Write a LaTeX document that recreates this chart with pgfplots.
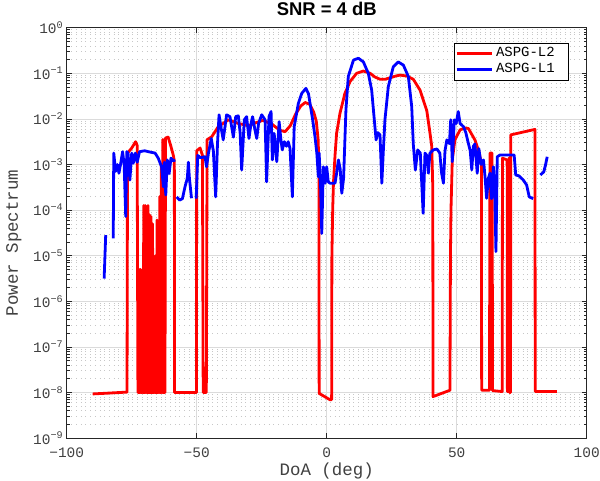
\documentclass[border=0pt]{standalone}
\usepackage{pgfplots}
\pgfplotsset{compat=1.18}
\usepackage{fontspec}
\setmainfont{Liberation Sans}
\newfontfamily\mono{Liberation Mono}
\definecolor{txtgray}{RGB}{64,64,64}
\definecolor{axgray}{RGB}{38,38,38}
\definecolor{mred}{RGB}{255,0,0}
\definecolor{mblue}{RGB}{0,0,255}
\begin{document}
\begin{tikzpicture}
\begin{axis}[
  scale only axis, width=520bp, height=410.4bp,
  at={(0,0)}, anchor=south west,
  xmin=-100, xmax=100, ymin=1e-9, ymax=1,
  ymode=log,
  xtick={-100,-50,0,50,100},
  xticklabels={−100,−50,0,50,100},
  ytick={1e-9,1e-8,1e-7,1e-6,1e-5,1e-4,1e-3,1e-2,1e-1,1},
  yticklabels={10\textsuperscript{−9},10\textsuperscript{−8},10\textsuperscript{−7},10\textsuperscript{−6},10\textsuperscript{−5},10\textsuperscript{−4},10\textsuperscript{−3},10\textsuperscript{−2},10\textsuperscript{−1},10\textsuperscript{0}},
  minor ytick={2e-9,3e-9,4e-9,5e-9,6e-9,7e-9,8e-9,9e-9,
               2e-8,3e-8,4e-8,5e-8,6e-8,7e-8,8e-8,9e-8,
               2e-7,3e-7,4e-7,5e-7,6e-7,7e-7,8e-7,9e-7,
               2e-6,3e-6,4e-6,5e-6,6e-6,7e-6,8e-6,9e-6,
               2e-5,3e-5,4e-5,5e-5,6e-5,7e-5,8e-5,9e-5,
               2e-4,3e-4,4e-4,5e-4,6e-4,7e-4,8e-4,9e-4,
               2e-3,3e-3,4e-3,5e-3,6e-3,7e-3,8e-3,9e-3,
               2e-2,3e-2,4e-2,5e-2,6e-2,7e-2,8e-2,9e-2,
               0.2,0.3,0.4,0.5,0.6,0.7,0.8,0.9},
  xmajorgrids, ymajorgrids, yminorgrids,
  major grid style={draw=black!14, line width=0.5bp},
  minor grid style={draw=black!22, line width=0.6bp, dash pattern=on 0.8bp off 3.9bp},
  tick align=inside, xtick pos=both, ytick pos=both,
  major tick length=5bp, minor tick length=3bp,
  every tick/.style={draw=axgray, line width=0.6bp},
  axis line style={draw=axgray, line width=0.6bp},
  tick label style={font=\mono\fontsize{14.5}{16}\selectfont, text=txtgray},
  xticklabel style={anchor=base, yshift=-19bp},
  xlabel={DoA (deg)}, ylabel={Power Spectrum},
  label style={font=\mono\fontsize{17.5}{19}\selectfont, text=txtgray},
  xlabel style={at={(axis description cs:0.5,-0.0902)}, anchor=base},
  ylabel style={at={(axis description cs:-0.0937,0.4756)}, anchor=base},
  title={SNR = 4 dB},
  title style={font=\bfseries\fontsize{18.5}{20}\selectfont, at={(axis description cs:0.5,1.0146)}, anchor=base},
  legend style={at={(axis description cs:0.7445,0.962)}, anchor=north west,
    font=\mono\fontsize{14}{16}\selectfont, draw=black, fill=white,
    inner xsep=1bp, inner ysep=3bp, row sep=0bp,
    nodes={inner xsep=2bp, inner ysep=0bp, text height=10.5bp, text depth=4.8bp, anchor=base west}},
  legend image code/.code={\draw[#1] (2bp,3bp) -- (37bp,3bp);},
  legend cell align=left,
]
\addlegendimage{draw=mred, line width=3bp}
\addlegendentry{\hspace*{1bp}ASPG-L2\hspace*{11bp}}
\addlegendimage{draw=mblue, line width=3bp}
\addlegendentry{\hspace*{1bp}ASPG-L1\hspace*{11bp}}
\addplot[forget plot, draw=mred, line width=2.8bp, line join=round] coordinates {
(-90.0,9.3e-9) (-76.8,1.02e-8) (-76.6,1.78e-3) (-75.0,2.29e-3) (-73.5,3.16e-3) (-72.9,2.63e-3) (-72.6,1e-8)
(-72.3,1e-8) (-72.18,5e-6) (-72.05,1e-8)
(-71.7,1e-8) (-71.58,5e-6) (-71.45,1e-8)
(-71.1,1e-8) (-70.98,4.47e-6) (-70.85,1e-8)
(-70.5,1e-8) (-70.38,1.26e-4) (-70.25,1e-8)
(-69.95,1e-8) (-69.83,1.26e-4) (-69.7,1e-8)
(-69.4,1e-8) (-69.28,1.12e-4) (-69.15,1e-8)
(-68.85,1e-8) (-68.73,1.26e-4) (-68.6,1e-8)
(-68.3,1e-8) (-68.18,7.94e-5) (-68.05,1e-8)
(-67.7,1e-8) (-67.58,7.24e-5) (-67.45,1e-8)
(-67.1,1e-8) (-66.98,5.01e-5) (-66.85,1e-8)
(-66.5,1e-8) (-66.38,3.98e-7) (-66.25,1e-8)
(-65.95,1e-8) (-65.83,1e-5) (-65.7,1e-8)
(-65.4,1e-8) (-65.28,6.03e-5) (-65.15,1e-8)
(-64.85,1e-8) (-64.73,5.01e-5) (-64.6,1e-8)
(-64.3,1e-8) (-64.18,2.0e-4) (-64.05,1e-8)
(-63.7,1e-8) (-63.58,1.0e-3) (-63.45,1e-8)
(-63.15,1e-8) (-63.03,3.55e-3) (-62.9,1e-8)
(-62.6,1e-8) (-62.48,1.26e-3) (-62.35,1e-8)
(-62.2,1e-8) (-62.0,3.8e-3) (-61.0,4.0e-3) (-60.0,2.6e-3) (-59.0,1.6e-3) (-58.6,1.2e-3) (-58.5,1e-8)
(-50.1,1e-8) (-50.0,2.0e-3) (-48.7,2.3e-3) (-47.8,1.6e-3) (-47.5,1e-8)
(-46.3,1e-8) (-46.0,3.5e-3) (-44.2,4.07e-3) (-41.7,6.76e-3) (-37.8,9.55e-3) (-34.0,7.94e-3)
(-30.0,7.08e-3) (-27.0,8.32e-3) (-24.5,9.33e-3) (-21.0,7.59e-3) (-18.0,5.62e-3) (-16.0,5.25e-3)
(-14.0,7.08e-3) (-12.0,1.26e-2) (-10.0,1.91e-2) (-8.3,2.29e-2) (-6.5,2.09e-2) (-5.0,1.41e-2)
(-4.0,8.91e-3) (-3.3,3.55e-3) (-3.0,1e-3) (-2.9,9.55e-9) (1.3,6.92e-9) (1.9,7e-9)
(2.0,1e-5) (2.3,1e-4) (2.6,3.98e-4) (3.2,1.58e-3) (3.8,4.79e-3) (5.1,1.32e-2) (7.0,3.63e-2)
(9.0,6.61e-2) (11.5,0.1) (14.1,0.112) (16.7,0.1) (18.5,8.32e-2) (20.5,7.41e-2) (22.5,7.41e-2)
(24.3,7.94e-2) (26.5,8.71e-2) (28.2,9.12e-2) (30.8,8.71e-2) (33.3,7.41e-2) (35.9,4.27e-2)
(38.5,1.51e-2) (39.7,5.01e-3) (40.4,2.51e-3) (40.8,3.16e-4) (40.9,8.13e-9) (47.4,1.12e-8)
(47.6,1e-5) (47.8,1e-4) (48.3,1.26e-3) (49.3,3.47e-3) (51.3,5.75e-3) (53.2,6.31e-3) (54.5,6.17e-3)
(57.0,3.47e-3) (58.7,1.78e-3) (59.5,1e-3) (59.6,1.12e-8) (62.6,1.12e-8) (62.8,1.78e-3) (63.6,1.78e-3)
(63.8,1.1e-8) (67.5,1.05e-8) (67.6,1.38e-3) (69.4,1.26e-3) (69.5,1.05e-8) (70.1,1.05e-8) (70.2,1.4e-3)
(70.35,1.0e-8) (70.7,1.0e-8) (70.8,4.47e-3) (80.1,5.89e-3) (80.2,1.05e-8) (88.5,1.05e-8)
};
\addplot[forget plot, draw=mblue, line width=2.8bp, line join=round] coordinates {
(-82.1,2.4e-5) (-81.9,1.78e-3) (-81.2,7.08e-4) (-80.5,1e-3) (-79.9,6.46e-4) (-79.3,1e-3) (-78.5,1.91e-3)
(-77.9,1e-3) (-77.3,7.24e-5) (-76.9,1.91e-3) (-76.4,1.78e-3) (-75.7,4.57e-4) (-75.0,1.78e-3)
(-74.4,1.07e-3) (-73.6,1.78e-3) (-72.9,1.12e-3) (-72.0,1.91e-3) (-70.0,2.0e-3) (-68.6,1.91e-3)
(-66.0,1.78e-3) (-64.8,1.38e-3) (-63.5,8.91e-4) (-62.8,3.24e-4) (-62.4,1.12e-3) (-61.9,2.14e-4)
(-61.3,1.26e-3) (-60.6,6.31e-4) (-59.9,1.38e-3) (-59.0,1.2e-3) (-58.3,1.26e-3)
};
\addplot[forget plot, draw=mblue, line width=2.8bp, line join=round] coordinates {
(-85.6,3.16e-6) (-85.0,2.82e-5)
};
\addplot[forget plot, draw=mblue, line width=2.8bp, line join=round] coordinates {
(-57.7,1.95e-4) (-56.6,1.66e-4) (-55.5,1.78e-4) (-54.5,3.24e-4) (-53.6,5.01e-4) (-53.2,1.12e-3)
(-52.8,5.0e-4) (-52.0,1.82e-4)
};
\addplot[forget plot, draw=mblue, line width=2.8bp, line join=round] coordinates {
(-50.2,1.78e-4) (-49.6,1.58e-3) (-48.5,1.41e-3) (-46.8,1.48e-3) (-46.2,8.91e-4) (-45.5,1.74e-3)
(-44.4,3.72e-3) (-43.6,2.0e-3) (-42.7,1.95e-4) (-42.0,2.88e-3) (-41.4,1.23e-2) (-40.6,6.31e-3)
(-39.8,3.47e-3) (-38.5,1.23e-2) (-37.2,1.12e-2) (-35.9,3.98e-3) (-35.0,1.12e-2) (-34.0,1.17e-2)
(-33.3,5.01e-3) (-32.7,7.59e-4) (-31.7,9.55e-3) (-30.8,1.12e-2) (-29.9,3.72e-3) (-29.1,7.94e-3)
(-28.5,1.12e-2) (-27.6,5.75e-3) (-26.9,3.72e-3) (-26.2,7.94e-3) (-25.0,1.23e-2) (-23.7,9.55e-3)
(-23.1,4.17e-4) (-22.2,1.12e-2) (-21.4,1.45e-2) (-20.9,1.26e-3) (-20.2,4.79e-3) (-19.2,1.15e-3)
(-18.3,8.71e-3) (-17.6,3.47e-3) (-17.1,2.09e-3) (-16.3,3.16e-3) (-15.5,2.51e-3) (-14.8,3.16e-3)
(-14.1,2.24e-3) (-13.2,1.95e-4) (-12.5,6.76e-3) (-10.9,2.19e-2) (-9.6,3.63e-2) (-8.0,4.68e-2)
(-7.0,3.55e-2) (-6.2,1.86e-2) (-5.4,9.55e-3) (-4.5,4.07e-3) (-3.8,1.78e-3) (-3.2,5.37e-4)
(-2.9,1.78e-3) (-2.3,2.75e-4) (-1.9,3.09e-5) (-1.3,8.91e-4) (-0.6,3.89e-4) (0.0,8.91e-4)
(0.6,4.17e-4) (1.3,3.89e-4) (3.2,3.89e-4) (3.8,6.31e-4) (4.5,1.26e-3) (5.2,7.94e-4) (5.8,2.34e-4)
(6.5,5.01e-4) (7.0,3.47e-3) (7.4,1.58e-2) (8.3,8.51e-2) (10.3,0.195) (12.2,0.214) (14.1,0.178)
(16.0,0.1) (17.3,4.27e-2) (18.2,1.12e-2) (19.0,3.47e-3) (19.6,5.01e-3) (20.5,4.47e-3) (21.2,3.89e-4)
(21.8,2.09e-3) (22.4,9.55e-3) (23.7,5.13e-2) (25.6,0.138) (27.5,0.178) (29.5,0.151) (31.4,8.51e-2)
(32.7,1.86e-2) (33.3,2.82e-3) (34.1,7.59e-4) (35.0,2.09e-3) (36.0,1.78e-3) (37.1,8.51e-5)
(37.8,1.78e-3) (38.5,1.58e-3) (39.1,6.46e-4) (39.7,1.78e-3) (41.0,2.09e-3) (42.4,2.19e-3)
(43.5,1.78e-3) (44.2,6.46e-4) (44.9,3.89e-4) (45.5,2.0e-3) (46.2,3.47e-3) (47.2,2.88e-3)
(47.7,9.55e-3) (48.3,1.15e-3) (49.1,9.55e-3) (49.8,7.94e-3) (50.6,1.45e-2) (51.3,7.94e-3)
(52.6,6.76e-3) (53.5,5.01e-3) (54.5,2.88e-3) (55.2,2.0e-3) (55.8,7.59e-4) (56.4,2.51e-3)
(57.0,2.82e-3) (57.9,6.46e-4) (58.5,2.24e-3) (59.4,1.0e-3) (60.3,1.26e-3) (60.9,5.37e-4)
(61.5,1.82e-4) (62.2,5.01e-4) (62.8,6.46e-4) (63.4,1.78e-4) (64.1,8.91e-4) (64.6,3.16e-4)
(65.1,1.23e-5) (65.6,1.48e-3) (66.7,1.62e-3) (72.1,1.62e-3) (72.7,5.89e-4) (74.0,5.62e-4)
(75.6,4.57e-4) (76.9,3.55e-4) (77.9,1.95e-4) (79.4,1.78e-4)
};
\addplot[forget plot, draw=mblue, line width=2.8bp, line join=round] coordinates {
(82.2,5.89e-4) (83.5,6.92e-4) (84.2,1e-3) (84.8,1.48e-3)
};
\end{axis}
\pgfresetboundingbox
\path (-66.7bp,-42.9bp) rectangle (533.3bp,438.1bp);
\end{tikzpicture}
\end{document}
